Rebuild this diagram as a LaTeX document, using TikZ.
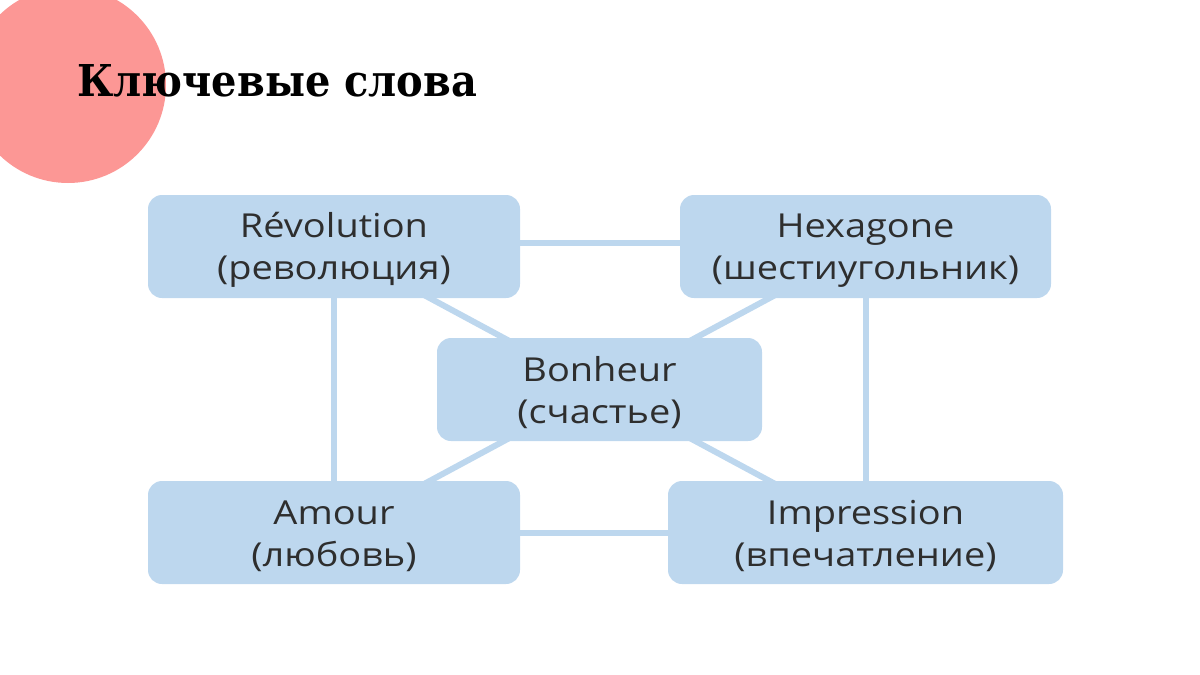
\documentclass[tikz,border=0pt]{standalone}
\usepackage{fontspec}
\setmainfont{Open Sans}[FakeStretch=1.15]
\newfontfamily\titlefont{DejaVu Serif}
\usetikzlibrary{backgrounds}
\definecolor{boxblue}{HTML}{BDD7EE}
\definecolor{pinkc}{HTML}{FC9795}
\definecolor{txt}{HTML}{2E2E2E}
\newcommand{\ktop}{\rule{0pt}{32pt}}
\begin{document}
\begin{tikzpicture}[x=1pt,y=-1pt,
  kbox/.style={fill=boxblue, rounded corners=14pt, minimum height=103pt,
    align=center, inner sep=0pt, text=txt,
    font=\fontsize{33}{42}\selectfont},
  link/.style={draw=boxblue, line width=6pt}]
\useasboundingbox (0,0) rectangle (1200,675);
\fill[pinkc] (68,85) circle (98pt);
\node[anchor=base west, inner sep=0pt] (title) at (77,96)
  {\resizebox{400pt}{32pt}{\titlefont\bfseries Ключевые слова}};
\node[kbox, minimum width=372pt] (rev) at (334,246.5) {\ktop Révolution\\(революция)};
\node[kbox, minimum width=371pt] (hex) at (865.5,246.5) {\ktop Hexagone\\(шестиугольник)};
\node[kbox, minimum width=325pt] (bon) at (599.5,389.5) {\ktop Bonheur\\(счастье)};
\node[kbox, minimum width=372pt] (amo) at (334,532.5) {\ktop Amour\\(любовь)};
\node[kbox, minimum width=395pt] (imp) at (865.5,532.5) {\ktop Impression\\(впечатление)};
\begin{pgfonlayer}{background}
  \draw[link] ([yshift=4pt]rev.center) -- ([yshift=4pt]hex.center);
  \draw[link] (amo.center) -- (imp.center);
  \draw[link] (rev.center) -- (amo.center);
  \draw[link] (hex.center) -- (imp.center);
  \draw[link] (rev.center) -- (bon.center);
  \draw[link] (hex.center) -- (bon.center);
  \draw[link] (amo.center) -- (bon.center);
  \draw[link] (imp.center) -- (bon.center);
\end{pgfonlayer}
\end{tikzpicture}
\end{document}
